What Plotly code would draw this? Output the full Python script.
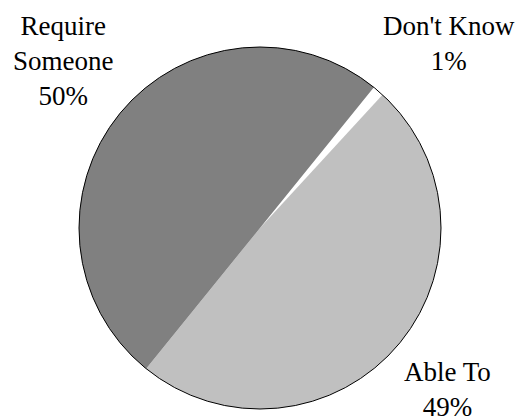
import plotly.graph_objects as go

labels = ["Don't Know", "Able To", "Require Someone"]
label_text = ["Don't Know", "Able To", "Require<br>Someone"]
values = [1, 49, 50]
colors = ["#FFFFFF", "#C0C0C0", "#808080"]

W, H = 530, 417
cx, cy, r = 260, 228, 181
dom_x = [(cx - r) / W, (cx + r) / W]
dom_y = [1 - (cy + r) / H, 1 - (cy - r) / H]

FONT = "Liberation Serif, Times New Roman, serif"

fig = go.Figure()
fig.add_trace(go.Pie(
    labels=labels, values=values, sort=False, direction="clockwise",
    rotation=39, marker=dict(colors=colors, line=dict(width=0)),
    textinfo="none", hoverinfo="none", showlegend=False,
    domain=dict(x=dom_x, y=dom_y),
))
# outer outline
fig.add_trace(go.Pie(
    values=[1], labels=["outline"], sort=False,
    marker=dict(colors=["rgba(0,0,0,0)"], line=dict(color="black", width=1)),
    textinfo="none", hoverinfo="none", showlegend=False,
    domain=dict(x=dom_x, y=dom_y),
))

# label positions (px): center x, top y
label_pos = {"Don't Know": (449, 9), "Able To": (447, 355), "Require Someone": (63, 9)}
total = sum(values)
for lab, txt, v in zip(labels, label_text, values):
    px, py = label_pos[lab]
    pct = round(100 * v / total)
    fig.add_annotation(
        x=px / W, y=1 - py / H, xref="paper", yref="paper",
        xanchor="center", yanchor="top", showarrow=False,
        text=f"{txt}<br>{pct}%", align="center",
        font=dict(family=FONT, size=27, color="black"),
    )

fig.update_layout(
    width=W, height=H, margin=dict(l=0, r=0, t=0, b=0),
    paper_bgcolor="white", plot_bgcolor="white",
)
fig.write_html("out.html")
